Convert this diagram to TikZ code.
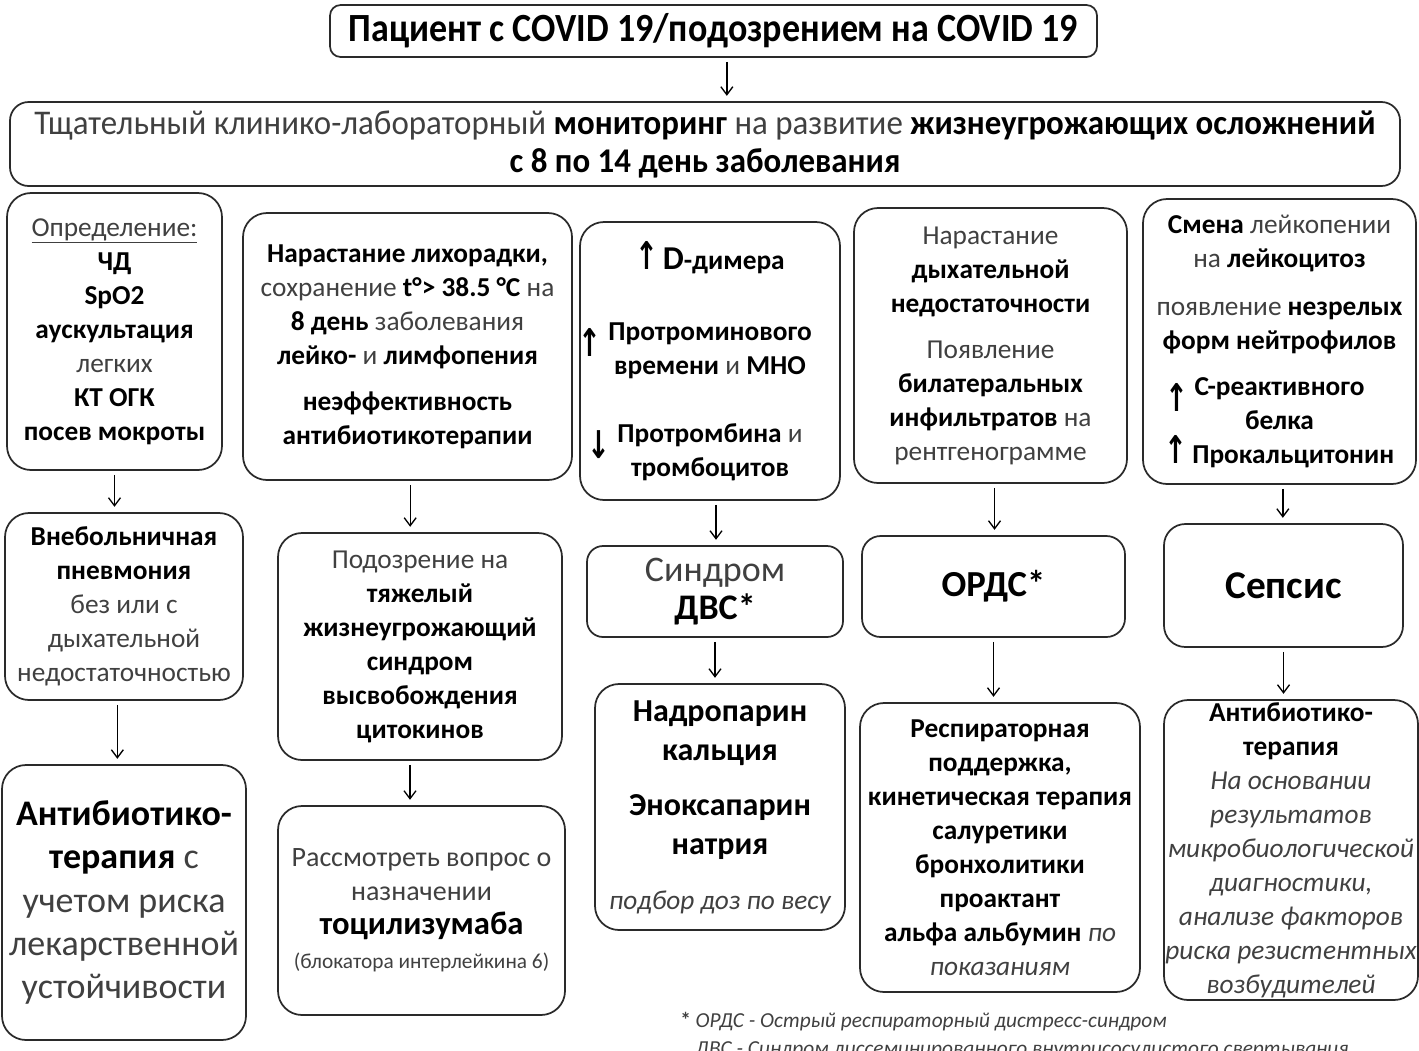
\documentclass[tikz,border=0pt]{standalone}
\usepackage{fontspec}
\setmainfont{Carlito}
\newfontfamily\condfont{Carlito}[FakeStretch=0.9]
\newfontfamily\condfontb{Carlito}[FakeStretch=0.95]
\newfontfamily\symfont{DejaVu Sans}
\usetikzlibrary{arrows.meta,calc}
\definecolor{txtg}{HTML}{404040}
\definecolor{lineg}{HTML}{2A2A2A}
\newcommand{\nrm}[1]{{\mdseries\color{txtg}#1}}
\newcommand{\nit}[1]{{\mdseries\itshape\color{txtg}#1}}
\newcommand{\upa}{{\symfont\bfseries\scalebox{1.0}[1.4]{↑}}}
\newcommand{\dna}{{\symfont\bfseries\scalebox{1.0}[1.4]{↓}}}
\newcommand{\lupa}{\llap{\smash{\raisebox{-12pt}{\upa}}\hspace{5pt}}}
\newcommand{\ldna}{\llap{\smash{\raisebox{-12pt}{\dna}}\hspace{5pt}}}
\tikzset{
  box/.style 2 args={draw=lineg, line width=1.3pt, rounded corners=18pt,
    minimum width=#1*0.75pt, minimum height=#2*0.75pt, align=center,
    inner sep=0pt, text=black, font=\fontsize{20.5}{25.5}\selectfont\bfseries},
  arr/.style={draw=black, line width=1pt, -{Straight Barb[length=6pt,width=9pt]},
    shorten <=3pt, shorten >=4pt},
  foot/.style={anchor=west, inner sep=0pt, text=txtg, font=\fontsize{16}{18}\selectfont\itshape}
}
\begin{document}
\begin{tikzpicture}[x=0.75pt, y=-0.75pt]
\useasboundingbox (0,0) rectangle (1419,1050);
% header
\node[box={767}{52}, rounded corners=8pt, font=\condfont\fontsize{30}{32}\selectfont\bfseries] (top) at (713.5,31)
  {Пациент с COVID 19/подозрением на COVID 19};
\node[box={1390}{84}, rounded corners=14pt, font=\condfontb\fontsize{26}{28.5}\selectfont\bfseries] (mon) at (705,144)
  {\nrm{Тщательный клинико-лабораторный} мониторинг \nrm{на развитие} жизнеугрожающих осложнений\\с 8 по 14 день заболевания};
% row 1
\node[box={215}{277}] (A) at (114.5,331.5)
  {\nrm{\underline{Определение:}}\\ЧД\\SpO2\\аускультация\\\nrm{легких}\\КТ ОГК\\посев мокроты};
\node[box={329}{267}] (B) at (407.5,346.5)
  {Нарастание лихорадки,\\\nrm{сохранение} t°> 38.5 °C \nrm{на}\\8 день \nrm{заболевания}\\лейко- \nrm{и} лимфопения\\[9pt]неэффективность\\антибиотикотерапии};
\node[box={260}{278}] (C) at (710,361)
  {\upa\,{\fontsize{25}{25}\selectfont D}-димера\\[28pt]\lupa Протроминового\\времени \nrm{и} МНО\\[25pt]\ldna Протромбина \nrm{и}\\тромбоцитов};
\node[box={273}{275}] (D) at (990.5,345.5)
  {\nrm{Нарастание}\\дыхательной\\недостаточности\\[9pt]\nrm{Появление}\\билатеральных\\инфильтратов \nrm{на}\\\nrm{рентгенограмме}};
\node[box={273}{285}] (E) at (1279.5,341.5)
  {Смена \nrm{лейкопении}\\\nrm{на} лейкоцитоз\\[11pt]\nrm{появление} незрелых\\форм нейтрофилов\\[9pt]\lupa С-реактивного\\белка\\\upa\,Прокальцитонин};
% row 2
\node[box={238}{187}] (A2) at (124,606.5)
  {Внебольничная\\пневмония\\\nrm{без или с}\\\nrm{дыхательной}\\\nrm{недостаточностью}};
\node[box={284}{227}] (B2) at (420,646.5)
  {\nrm{Подозрение на}\\тяжелый\\жизнеугрожающий\\синдром\\высвобождения\\цитокинов};
\node[box={256}{91}, rounded corners=12pt, font=\fontsize{27}{29}\selectfont\bfseries] (C2) at (715,591.5)
  {\nrm{Синдром}\\ДВС*};
\node[box={263}{101}, rounded corners=14pt, font=\fontsize{27.5}{29}\selectfont\bfseries] (D2) at (993.5,586.5)
  {ОРДС*};
\node[box={239}{123}, rounded corners=16pt, font=\fontsize{29.5}{30}\selectfont\bfseries] (E2) at (1283.5,585.5)
  {Сепсис};
% row 3
\node[box={244}{275}, font=\fontsize{27}{32.6}\selectfont\bfseries] (A3) at (124,902.5)
  {Антибиотико-\\терапия \nrm{с}\\\nrm{учетом риска}\\\nrm{лекарственной}\\\nrm{устойчивости}};
\node[box={287}{209}, font=\fontsize{21}{25.5}\selectfont\bfseries] (B3) at (421.5,910.5)
  {\nrm{Рассмотреть вопрос о}\\\nrm{назначении}\\{\fontsize{24.5}{25.5}\selectfont тоцилизумаба}\\{\fontsize{16}{16}\selectfont\nrm{(блокатора интерлейкина 6)}}};
\node[box={250}{246}, font=\fontsize{24}{29.25}\selectfont\bfseries] (C3) at (720,807)
  {Надропарин\\кальция\\[12pt]Эноксапарин\\натрия\\[12pt]{\fontsize{20.5}{20.5}\selectfont\nit{подбор доз по весу}}};
\node[box={280}{289}] (D3) at (1000,847.5)
  {Респираторная\\поддержка,\\кинетическая терапия\\салуретики\\бронхолитики\\проактант\\альфа альбумин \nit{по}\\\nit{показаниям}};
\node[box={254}{300}] (E3) at (1291,850)
  {Антибиотико-\\терапия\\\nit{На основании}\\\nit{результатов}\\\nit{микробиологической}\\\nit{диагностики,}\\\nit{анализе факторов}\\\nit{риска резистентных}\\\nit{возбудителей}};
% footnotes
\node[foot] (fn1) at (680,1022) {{\upshape\bfseries *} ОРДС - Острый респираторный дистресс-синдром};
\node[foot] (fn2) at (695,1050) {ДВС - Синдром диссеминированного внутрисосудистого свертывания};
% arrows
\draw[arr] ([xshift=10pt]top.south) -- ([xshift=10pt]top.south |- mon.north);
\draw[arr] (A) -- (A |- A2.north);
\draw[arr] ([xshift=2pt]B.south) -- ([xshift=2pt]B.south |- B2.north);
\draw[arr] ([xshift=4.5pt]C.south) -- ([xshift=4.5pt]C.south |- C2.north);
\draw[arr] ([xshift=3pt]D.south) -- ([xshift=3pt]D.south |- D2.north);
\draw[arr] ([xshift=2.5pt]E.south) -- ([xshift=2.5pt]E.south |- E2.north);
\draw[arr] ([xshift=-5pt]A2.south) -- ([xshift=-5pt]A2.south |- A3.north);
\draw[arr] ([xshift=-7.5pt]B2.south) -- ([xshift=-7.5pt]B2.south |- B3.north);
\draw[arr] (C2) -- (C2 |- C3.north);
\draw[arr] (D2) -- (D2 |- D3.north);
\draw[arr] (E2) -- (E2 |- E3.north);
\end{tikzpicture}
\end{document}
